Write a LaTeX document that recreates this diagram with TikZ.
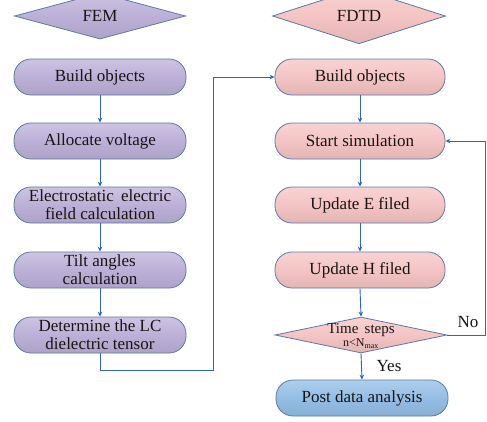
\documentclass[tikz,border=0pt]{standalone}
\usepackage{fontspec}
\setmainfont{Liberation Serif}
\usetikzlibrary{shapes.geometric,arrows.meta,positioning}
\usepackage{xcolor}
\definecolor{femfill}{RGB}{188,176,216}
\definecolor{fdtdfill}{RGB}{245,196,196}
\definecolor{postfill}{RGB}{148,190,230}
\definecolor{boxline}{RGB}{95,120,165}
\definecolor{flowblue}{RGB}{50,100,190}
\definecolor{inktext}{RGB}{25,20,20}

\begin{document}
\begin{tikzpicture}[x=1pt, y=-1pt,
    femstep/.style={draw=boxline, top color=femfill!75!white, bottom color=femfill!92!black,
      middle color=femfill, line width=0.8pt, rounded corners=17pt, text=inktext,
      minimum width=172pt, minimum height=36pt, inner sep=0pt, align=center,
      font=\fontsize{17}{18}\selectfont},
    fdtdstep/.style={femstep, top color=fdtdfill!75!white, bottom color=fdtdfill!92!black,
      middle color=fdtdfill, minimum width=170pt},
    poststep/.style={femstep, top color=postfill!75!white, bottom color=postfill!92!black,
      middle color=postfill},
    title/.style={diamond, draw=boxline, top color=femfill!75!white, bottom color=femfill!92!black,
      middle color=femfill, line width=0.8pt, inner sep=0pt, text=inktext,
      minimum width=171pt, minimum height=32pt, font=\fontsize{17}{18}\selectfont},
    fdtdtitle/.style={title, top color=fdtdfill!75!white, bottom color=fdtdfill!92!black,
      middle color=fdtdfill},
    flow/.style={draw=flowblue, line width=0.9pt, -{Stealth[length=5pt,width=4.5pt]}}]
    \useasboundingbox (0,0) rectangle (487,421);

    \coordinate (F0) at (100, 16);
    \coordinate (F1) at (100, 77);
    \coordinate (F2) at (100, 141);
    \coordinate (F3) at (100, 205);
    \coordinate (F4) at (100, 270);
    \coordinate (F5) at (100, 335);

    \coordinate (D0) at (359, 16);
    \coordinate (D1) at (360, 77);
    \coordinate (D2) at (360, 141);
    \coordinate (D3) at (360, 205);
    \coordinate (D4) at (360, 270);
    \coordinate (D5) at (361, 335);
    \coordinate (D6) at (362, 398);

    % FEM column
    \node [title] (fem) at (F0) {FEM};
    \node [femstep] (femBuild) at (F1) {Build objects};
    \node [femstep] (femVolt) at (F2) {Allocate voltage};
    \node [femstep] (femField) at (F3) {Electrostatic\, electric\\field calculation};
    \node [femstep] (femTilt) at (F4) {Tilt angles\\calculation};
    \node [femstep] (femTensor) at (F5) {Determine the LC\\dielectric tensor};

    % FDTD column
    \node [fdtdtitle, minimum width=173pt] (fdtd) at (D0) {FDTD};
    \node [fdtdstep] (fdtdBuild) at (D1) {Build objects};
    \node [fdtdstep] (fdtdStart) at (D2) {Start simulation};
    \node [fdtdstep] (fdtdE) at (D3) {Update E filed};
    \node [fdtdstep] (fdtdH) at (D4) {Update H filed};
    \node [fdtdtitle, minimum width=172pt, minimum height=36pt] (fdtdTime) at (D5) {};
    \node [align=center, inner sep=0pt, text=inktext, font=\fontsize{15}{13}\selectfont] (timeText) at ([yshift=-1pt]fdtdTime.center)
      {Time\, steps\\{\fontsize{12}{12}\selectfont n<N\textsubscript{max}}};
    \node [poststep] (post) at (D6) {Post data analysis};

    \draw [flow] (femBuild) -- (femVolt);
    \draw [flow] (femVolt) -- (femField);
    \draw [flow] (femField) -- (femTilt);
    \draw [flow] (femTilt) -- (femTensor);

    \coordinate (turn) at (213, 370);
    \draw [flow] (femTensor.south) |- (turn) |- (fdtdBuild.west);

    \draw [flow] (fdtdBuild) -- (fdtdStart);
    \draw [flow] (fdtdStart) -- (fdtdE);
    \draw [flow] (fdtdE) -- (fdtdH);
    \draw [flow] (fdtdH.south) -- (fdtdTime.north);
    \draw [flow] (fdtdTime.south) -- (post.north);

    \coordinate (loop) at (485, 335);
    \draw [flow] (fdtdTime.east) -- (loop) |- (fdtdStart.east);

    \node [text=inktext, font=\fontsize{17}{18}\selectfont] (no) at (468, 322) {No};
    \node [text=inktext, font=\fontsize{17}{18}\selectfont] (yes) at (389, 366) {Yes};
\end{tikzpicture}
\end{document}
